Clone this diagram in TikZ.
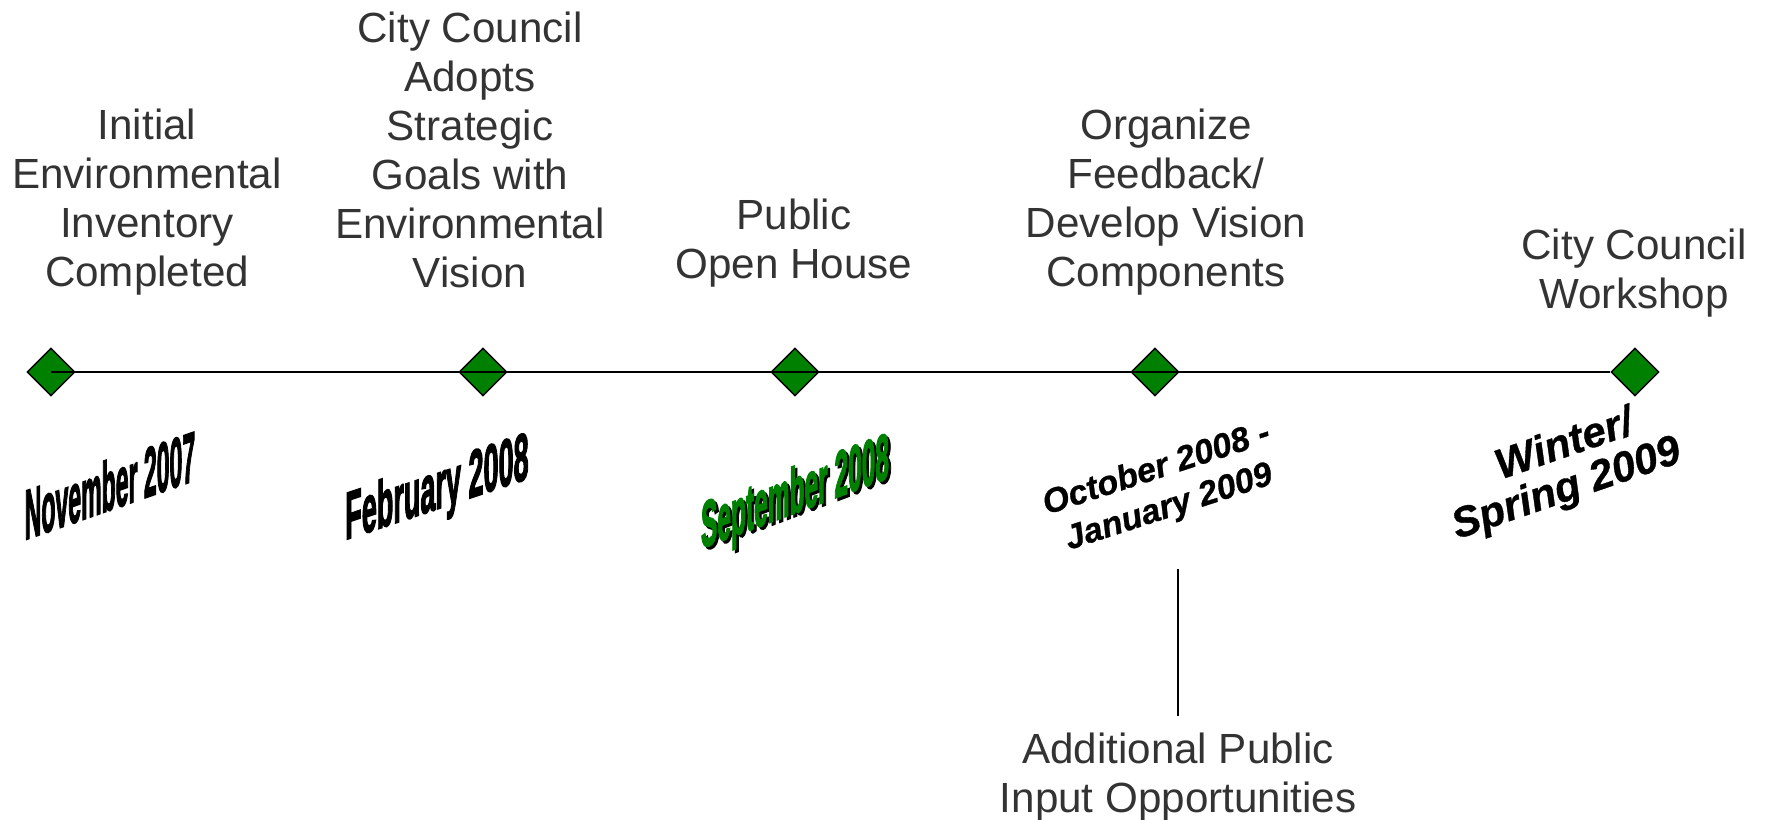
\documentclass[tikz,border=0pt]{standalone}
\usepackage{fontspec}
\setmainfont{Liberation Sans}
\newfontfamily\heavyfamily[FakeBold=3]{Liberation Sans}
\newfontfamily\periodfamily[FakeBold=0.8]{Liberation Sans}
\usetikzlibrary{shapes.geometric}
\definecolor{milestonegreen}{rgb}{0.0, 0.5, 0.0}
\definecolor{labelgray}{rgb}{0.2, 0.2, 0.2}

\begin{document}
\begin{tikzpicture}[x=0.1mm,y=-0.1mm,
        milestone/.style={diamond,draw,fill=milestonegreen,line width=0.4pt,inner sep=0pt,minimum width=4.8mm,minimum height=4.8mm},
        event/.style={align=center,text=labelgray,font=\fontsize{12}{13.9}\selectfont},
        datefont/.style={font=\heavyfamily\bfseries\fontsize{#1}{#1}\selectfont,anchor=base,inner sep=0pt},
        periodfont/.style 2 args={align=center,inner sep=0pt,font=\periodfamily\bfseries\itshape\fontsize{#1}{#2}\selectfont}]
                \useasboundingbox (0,0) rectangle (1773,820);
                %Milestones
                \node[milestone] (m1) at (51,372) {};
                \node[milestone] (m2) at (483,372) {};
                \node[milestone] (m3) at (795,372) {};
                \node[milestone] (m4) at (1155,372) {};
                \node[milestone] (m5) at (1635,372) {};
                %Timeline
                \draw[line width=0.6pt] (m1.center)--(m5.west);
                %Events
                \node[event] (e1) at (147,202) {Initial\\Environmental\\Inventory\\Completed};
                \node[event] (e2) at (470,150) {City Council\\Adopts\\Strategic\\Goals with\\Environmental\\Vision};
                \node[event] (e3) at (794,243) {Public\\Open House};
                \node[event] (e4) at (1166,202) {Organize\\Feedback/\\Develop Vision\\Components};
                \node[event] (e5) at (1634,273) {City Council\\Workshop};
                %Dates
                \node[datefont=20,yslant=0.35,xscale=0.328] (d1) at (110,510) {November 2007};
                \node[datefont=19,yslant=0.335,xscale=0.405] (d2) at (437,509) {February 2008};
                \node[datefont=18.5,yslant=0.376,xscale=0.377] (d3s) at (797.5,515.5) {September 2008};
                \node[datefont=18.5,yslant=0.376,xscale=0.377,text=milestonegreen] (d3) at (795,513) {September 2008};
                \node[periodfont={9.7}{11.5},rotate=18] (d4) at (1163,489) {October 2008 -\\January 2009};
                \node[periodfont={12}{12},rotate=19] (d5) at (1560,470) {\hspace*{7pt}Winter/\\Spring 2009};
                %Extra input
                \coordinate (tick) at (1178,569);
                \node[event] (add) at (1178,777) {Additional Public\\Input Opportunities};
                \draw[shorten >=0.45mm] (tick)--(add.north);
            \end{tikzpicture}
\end{document}
